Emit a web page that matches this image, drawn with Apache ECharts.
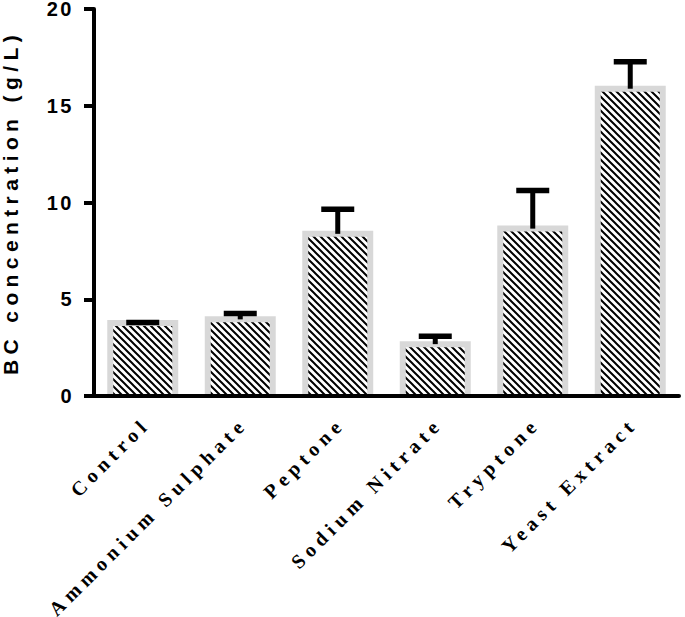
<!DOCTYPE html>
<html>
<head>
<meta charset="utf-8">
<script src="https://cdn.jsdelivr.net/npm/echarts@6/dist/echarts.min.js"></script>
<style>
  html, body { margin: 0; padding: 0; background: #fff; }
  #chart { width: 685px; height: 617px; }
  #chart text[style*="Liberation Serif"] { letter-spacing: 5.2px; }
  #chart text[style*="Liberation Sans"][style*="20px"] { letter-spacing: 2.5px; }
  #chart text[style*="21px"] { letter-spacing: 5.4px; }
</style>
</head>
<body>
<div id="chart"></div>
<script>
// ---- data ----
const categories = ['Control', 'Ammonium Sulphate', 'Peptone', 'Sodium Nitrate', 'Tryptone', 'Yeast Extract'];
const means = [3.77, 3.96, 8.38, 2.68, 8.65, 15.88];
const sds = [0.03, 0.31, 1.27, 0.41, 1.97, 1.40];
const yMin = 0;
const yMax = 20;
const yInterval = 5;
const yTitle = 'BC concentration (g/L)';

// ---- hatch pattern ----
const tile = document.createElement('canvas');
tile.width = 7; tile.height = 7;
(function () {
  const c = tile.getContext('2d');
  c.fillStyle = '#fff';
  c.fillRect(0, 0, 7, 7);
  c.strokeStyle = '#000';
  c.lineWidth = 2;
  c.beginPath();
  for (let k = -7; k <= 7; k += 7) {
    c.moveTo(k - 1, -1);
    c.lineTo(k + 8, 8);
  }
  c.stroke();
})();
const hatch = { image: tile, repeat: 'repeat', imageWidth: 7, imageHeight: 7 };

const seriesData = categories.map((c, i) => [i, means[i], sds[i]]);

function renderItem(params, api) {
  const i = api.value(0);
  const m = api.value(1);
  const s = api.value(2);
  const base = api.coord([i, 0]);
  const top = api.coord([i, m]);
  const hi = api.coord([i, m + s]);
  const band = api.size([1, 0])[0];
  const outerW = band * 0.728;
  const bw = 6;
  const cx = top[0];
  return {
    type: 'group',
    children: [
      { type: 'rect', shape: { x: cx - outerW / 2, y: top[1] - bw / 2, width: outerW, height: base[1] - top[1] + bw / 2 },
        style: { fill: '#d8d8d8' } },
      { type: 'rect', shape: { x: cx - outerW / 2 + bw, y: top[1] + bw / 2, width: outerW - 2 * bw, height: base[1] - top[1] - bw / 2 },
        style: { fill: hatch } },
      { type: 'rect', shape: { x: cx - 2.5, y: hi[1], width: 5, height: top[1] - hi[1] },
        style: { fill: '#000' } },
      { type: 'rect', shape: { x: cx - 16.5, y: hi[1] - 2.75, width: 33, height: 5.5 },
        style: { fill: '#000' } }
    ]
  };
}

const chart = echarts.init(document.getElementById('chart'), null, { renderer: 'svg' });
chart.setOption({
  animation: false,
  backgroundColor: '#fff',
  grid: { left: 94, right: 6, top: 9, bottom: 221, containLabel: false, outerBoundsMode: 'none' },
  xAxis: {
    type: 'category',
    data: categories,
    z: 10,
    axisLine: { lineStyle: { color: '#000', width: 4 } },
    axisTick: { alignWithLabel: true, length: 10, lineStyle: { color: '#000', width: 4 } },
    axisLabel: {
      rotate: 45, margin: 14, color: '#000', padding: [0, 5, 0, 0], verticalAlign: 'top',
      fontFamily: 'Liberation Serif', fontWeight: 'bold', fontSize: 20
    },
    splitLine: { show: false }
  },
  yAxis: {
    type: 'value',
    min: yMin, max: yMax, interval: yInterval,
    z: 10,
    name: yTitle,
    nameLocation: 'middle',
    nameGap: 73,
    nameTextStyle: { fontFamily: 'Liberation Sans', fontWeight: 'bold', fontSize: 21, color: '#000' },
    axisLine: { show: true, lineStyle: { color: '#000', width: 4 } },
    axisTick: { show: true, length: 10, lineStyle: { color: '#000', width: 4 } },
    axisLabel: { margin: 20, color: '#000', fontFamily: 'Liberation Sans', fontWeight: 'bold', fontSize: 20 },
    splitLine: { show: false }
  },
  series: [{
    type: 'custom',
    renderItem: renderItem,
    data: seriesData,
    encode: { x: 0, y: 1 },
    clip: false
  }]
});
</script>
</body>
</html>
